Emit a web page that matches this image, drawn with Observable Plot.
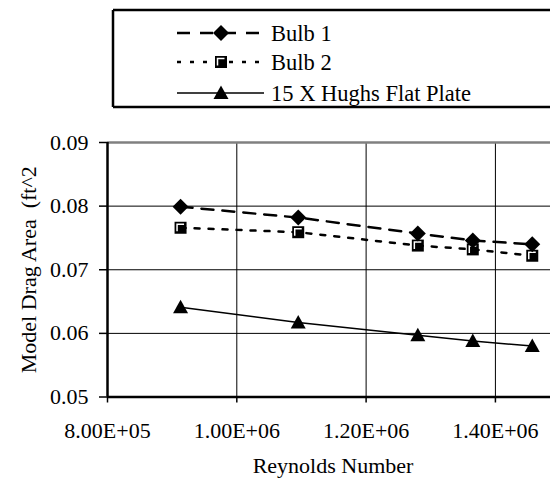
<!DOCTYPE html>
<html><head><meta charset="utf-8">
<script src="https://cdn.jsdelivr.net/npm/d3@7"></script>
<script src="https://cdn.jsdelivr.net/npm/@observablehq/plot@0.6"></script>
<style>
body{margin:0;background:#fff;font-family:"Liberation Serif",serif;}
#wrap{width:550px;height:478px;overflow:hidden;position:relative;background:#fff}
#legend svg,#chart svg{display:block}
#chart svg text{font-family:"Liberation Serif",serif}
</style></head><body><div id="wrap"><div id="legend"></div><div id="chart"></div></div>
<script>
const reynolds = [913000, 1095000, 1280000, 1365000, 1457000];
const bulb1 = [0.0799, 0.0782, 0.0757, 0.0746, 0.0740];
const bulb2 = [0.0766, 0.0759, 0.0738, 0.0732, 0.0722];
const flatPlate = [0.0641, 0.0617, 0.0597, 0.0588, 0.0580];
const seriesNames = ["Bulb 1", "Bulb 2", "15 X Hughs Flat Plate"];
const yTicks = [0.05, 0.06, 0.07, 0.08, 0.09];
const xTicks = [800000, 1000000, 1200000, 1400000];
const xTitle = "Reynolds Number";
const yTitle = "Model Drag Area  (ft^2";

const FONT = "Liberation Serif, serif";

const diamond = {draw(c, size) {const r = Math.sqrt(size / Math.PI); c.moveTo(0, -r); c.lineTo(r, 0); c.lineTo(0, r); c.lineTo(-r, 0); c.closePath();}};
const square = {draw(c, size) {const r = Math.sqrt(size / Math.PI); c.rect(-r, -r, 2 * r, 2 * r);}};
const squareL = {draw(c, size) {const r = Math.sqrt(size / Math.PI); c.moveTo(-r, r); c.lineTo(-r, -r); c.lineTo(r, -r);}};
const triangle = {draw(c, size) {const r = Math.sqrt(size / Math.PI); c.moveTo(0, -r); c.lineTo(r, r * 0.8); c.lineTo(-r, r * 0.8); c.closePath();}};

function fmtE(d) {
  const [m, e] = d.toExponential(2).split("e");
  return m + "E" + e[0] + e.slice(1).padStart(2, "0");
}

const rows = (ys, name) => reynolds.map((x, i) => ({x, y: ys[i], name}));
const d1 = rows(bulb1, seriesNames[0]);
const d2 = rows(bulb2, seriesNames[1]);
const d3r = rows(flatPlate, seriesNames[2]);

// Legend
const leg = d3.create("svg").attr("width", 550).attr("height", 125).attr("font-family", FONT);
leg.append("path").attr("d", "M113,10H550M113,107H550M113,10V107").attr("stroke", "#000").attr("stroke-width", 2.5).attr("fill", "none");
const entries = [
  {y: 33, dash: "13,10", w: 2.5, sym: "diamond"},
  {y: 62, dash: "4,9", w: 2.5, sym: "square"},
  {y: 93, dash: null, w: 1.5, sym: "triangle"}
];
entries.forEach((e, i) => {
  const ln = leg.append("line").attr("x1", 177).attr("x2", 264).attr("y1", e.y).attr("y2", e.y).attr("stroke", "#000").attr("stroke-width", e.w);
  if (e.dash) ln.attr("stroke-dasharray", e.dash);
  const g = leg.append("g").attr("transform", `translate(221,${e.y})`);
  if (e.sym === "diamond") g.append("path").attr("d", "M0,-8L8,0L0,8L-8,0Z").attr("fill", "#000");
  if (e.sym === "square") {g.append("rect").attr("x", -6).attr("y", -6).attr("width", 12).attr("height", 12).attr("fill", "#000"); g.append("path").attr("d", "M-3.5,3.5V-3.5H3.5").attr("stroke", "#fff").attr("stroke-width", 1.5).attr("fill", "none");}
  if (e.sym === "triangle") g.append("path").attr("d", "M0,-7.5L7.5,6L-7.5,6Z").attr("fill", "#000");
  leg.append("text").attr("x", 271).attr("y", e.y + 7.5).attr("font-size", 22.5).attr("font-family", FONT).attr("fill", "#000").text(seriesNames[i]);
});
document.getElementById("legend").appendChild(leg.node());

const chart = Plot.plot({
  width: 550, height: 353,
  marginLeft: 107, marginRight: 0, marginTop: 17, marginBottom: 81.5,
  style: {fontFamily: FONT, fontSize: "22px", color: "#000", background: "#fff"},
  x: {domain: [800000, 1485200]},
  y: {domain: [0.05, 0.09]},
  marks: [
    Plot.gridY([0.06, 0.07, 0.08], {stroke: "#000", strokeOpacity: 1, strokeWidth: 1}),
    Plot.gridX([1000000, 1200000, 1400000], {stroke: "#000", strokeOpacity: 1, strokeWidth: 1}),
    Plot.ruleY([0.09], {stroke: "#808080", strokeWidth: 2.5}),
    Plot.axisY(yTicks, {tickSize: 8, tickPadding: 11, tickFormat: d3.format(".2f"), label: null, fontSize: 22, strokeWidth: 1.5, fill: "#000"}),
    Plot.axisX(xTicks, {tickSize: 6, tickPadding: 19, tickFormat: fmtE, label: null, fontSize: 22, strokeWidth: 1.5, fill: "#000"}),
    Plot.ruleX([800000], {stroke: "#000", strokeWidth: 2.5}),
    Plot.ruleY([0.05], {stroke: "#000", strokeWidth: 2.5}),
    Plot.line(d3r, {x: "x", y: "y", stroke: "#000", strokeWidth: 1.5}),
    Plot.line(d2, {x: "x", y: "y", stroke: "#000", strokeWidth: 2.5, strokeDasharray: "5,9"}),
    Plot.line(d1, {x: "x", y: "y", stroke: "#000", strokeWidth: 2.5, strokeDasharray: "12,9"}),
    Plot.dot(d3r, {x: "x", y: "y", r: 7.5, symbol: triangle, fill: "#000", stroke: "none"}),
    Plot.dot(d2, {x: "x", y: "y", r: 6, symbol: square, fill: "#000", stroke: "none"}),
    Plot.dot(d2, {x: "x", y: "y", r: 3.5, symbol: squareL, fill: "none", stroke: "#fff", strokeWidth: 1.5}),
    Plot.dot(d1, {x: "x", y: "y", r: 8, symbol: diamond, fill: "#000", stroke: "none"}),
    Plot.text([xTitle], {frameAnchor: "bottom", dx: 4, dy: 69, lineAnchor: "middle", textAnchor: "middle", fontSize: 22, fill: "#000"}),
    Plot.text([yTitle], {frameAnchor: "left", dx: -79, rotate: -90, lineAnchor: "middle", textAnchor: "middle", fontSize: 22, fill: "#000"})
  ]
});
document.getElementById("chart").appendChild(chart);
</script></body></html>
